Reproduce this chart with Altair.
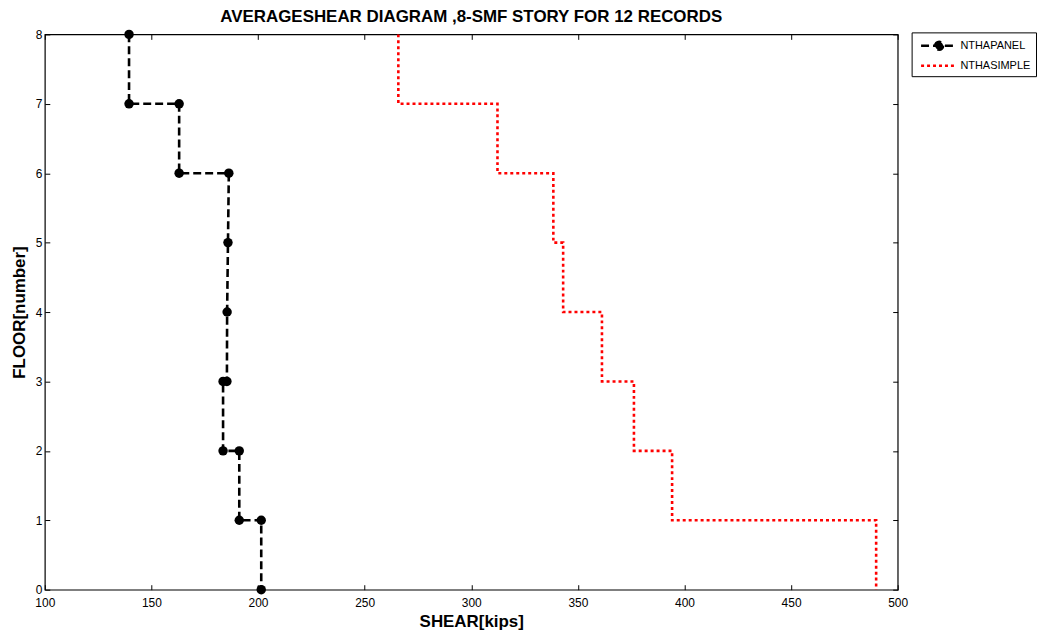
import altair as alt
import pandas as pd

series_names = ["NTHAPANEL", "NTHASIMPLE"]

panel_shear = [139.5, 139.5, 163.0, 163.0, 186.3, 185.9, 185.5, 185.4, 183.6, 183.6, 191.2, 191.2, 201.5, 201.5]
panel_floor = [8, 7, 7, 6, 6, 5, 4, 3, 3, 2, 2, 1, 1, 0]

simple_shear = [265.8, 265.8, 312.3, 312.3, 338.5, 338.5, 343.1, 343.1, 361.3, 361.3, 376.3, 376.3, 394.2, 394.2, 489.9, 489.9]
simple_floor = [8, 7, 7, 6, 6, 5, 5, 4, 4, 3, 3, 2, 2, 1, 1, 0]

x_ticks = [100, 150, 200, 250, 300, 350, 400, 450, 500]
y_ticks = [0, 1, 2, 3, 4, 5, 6, 7, 8]

rows = []
for i, (s, f) in enumerate(zip(panel_shear, panel_floor)):
    rows.append({"series": series_names[0], "shear": s, "floor": f, "idx": i})
for i, (s, f) in enumerate(zip(simple_shear, simple_floor)):
    rows.append({"series": series_names[1], "shear": s, "floor": f, "idx": i})
df = pd.DataFrame(rows)

FONT = "Liberation Sans"
xscale = alt.Scale(domain=[100, 500], nice=False, zero=False)
yscale = alt.Scale(domain=[0, 8], nice=False, zero=False)
color_scale = alt.Scale(domain=series_names, range=["black", "red"])

# legend glyphs: line with a marker / plain line
glyph_panel = "M-0.57,0 L4.3,0 M1.45,0 A0.57,0.57 0 1,1 2.59,0 A0.57,0.57 0 1,1 1.45,0 Z"
glyph_simple = "M-0.57,0 L4.3,0"

legend = alt.Legend(title=None)

lines = alt.Chart(df).mark_line(strokeWidth=2.6).encode(
    x=alt.X("shear:Q", scale=xscale,
            axis=alt.Axis(orient="bottom", values=x_ticks, tickSize=5, offset=-5,
                          labelPadding=8, labelFlush=False, domain=False, grid=False,
                          title="SHEAR[kips]", titlePadding=5)),
    y=alt.Y("floor:Q", scale=yscale,
            axis=alt.Axis(orient="left", values=y_ticks, tickSize=5, offset=-5,
                          labelPadding=3, labelFlush=False, domain=False, grid=False,
                          title="FLOOR[number]", titlePadding=7)),
    color=alt.Color("series:N", scale=color_scale, legend=legend),
    strokeDash=alt.StrokeDash("series:N",
                              scale=alt.Scale(domain=series_names, range=[[8, 4], [3, 3]]),
                              legend=legend),
    order="idx:Q",
    detail="series:N",
)

points = alt.Chart(df).transform_filter(
    alt.datum.series == series_names[0]
).mark_point(filled=True, size=90, opacity=1).encode(
    x=alt.X("shear:Q", scale=xscale,
            axis=alt.Axis(orient="top", values=x_ticks, tickSize=5, offset=-5,
                          labels=False, domain=False, grid=False, title=None)),
    y=alt.Y("floor:Q", scale=yscale,
            axis=alt.Axis(orient="right", values=y_ticks, tickSize=5, offset=-5,
                          labels=False, domain=False, grid=False, title=None)),
    color=alt.value("black"),
)

legend_layer = alt.Chart(df).transform_filter("false").mark_point(
    filled=True, opacity=1, size=196
).encode(
    x=alt.X("shear:Q", scale=xscale, axis=None),
    y=alt.Y("floor:Q", scale=yscale, axis=None),
    shape=alt.Shape("series:N", scale=alt.Scale(domain=series_names,
                                                range=[glyph_panel, glyph_simple]),
                    legend=legend),
    color=alt.Color("series:N", scale=color_scale, legend=legend),
)

chart = alt.layer(lines, points, legend_layer).resolve_axis(
    x="independent", y="independent"
).properties(
    width=857,
    height=558,
    autosize=alt.AutoSizeParams(type="none"),
    padding={"left": 37, "top": 25, "right": 142, "bottom": 40},
    title=alt.TitleParams("AVERAGESHEAR DIAGRAM ,8-SMF STORY FOR 12 RECORDS",
                          font=FONT, fontSize=17, fontWeight="bold", anchor="middle",
                          offset=2, color="black"),
).configure_view(
    stroke="black", strokeWidth=1.2
).configure_axis(
    labelFont=FONT, labelFontSize=12, labelColor="black",
    titleFont=FONT, titleFontSize=17, titleFontWeight="bold", titleColor="black",
    tickColor="black", tickWidth=1,
).configure_legend(
    orient="none", legendX=871, legendY=-2,
    strokeColor="black", fillColor="white", padding=5,
    labelFont=FONT, labelFontSize=11, labelColor="black",
    symbolSize=196, symbolStrokeWidth=2.6, symbolFillColor="black",
    rowPadding=2, labelOffset=27,
)

chart.save("out.html", embed_options={"renderer": "svg", "actions": False})
